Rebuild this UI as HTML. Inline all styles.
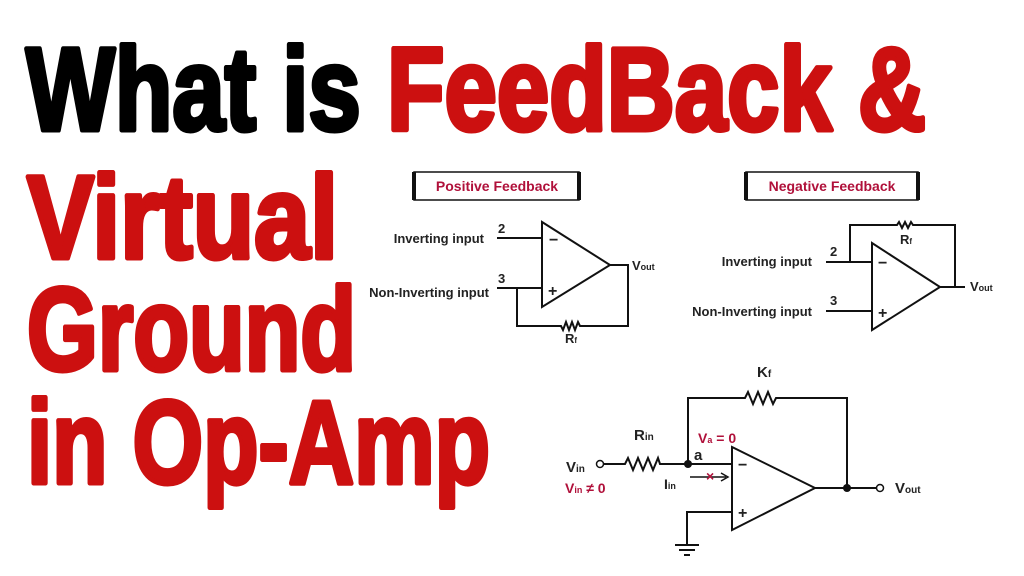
<!DOCTYPE html>
<html><head><meta charset="utf-8"><style>
html,body{margin:0;padding:0;background:#fff;}
svg{display:block}
.t{font-family:"Liberation Sans",sans-serif;font-weight:bold;font-size:118px;stroke-width:5;stroke-linejoin:round}
.h{font-family:"Liberation Sans",sans-serif;font-size:13px;fill:#222;font-weight:bold}
.c{font-family:"Liberation Sans",sans-serif;fill:#b0103a;font-weight:bold}
</style></head><body>
<svg width="1024" height="576" viewBox="0 0 1024 576" xmlns="http://www.w3.org/2000/svg">
<rect width="1024" height="576" fill="#fff"/>
<text class="t" x="26" y="130" textLength="900" lengthAdjust="spacingAndGlyphs"><tspan fill="#000" stroke="#000">What is </tspan><tspan fill="#cc1010" stroke="#cc1010">FeedBack &amp;</tspan></text>
<text class="t" x="27" y="258" fill="#cc1010" stroke="#cc1010" textLength="311" lengthAdjust="spacingAndGlyphs">Virtual</text>
<text class="t" x="27" y="370" fill="#cc1010" stroke="#cc1010" textLength="329" lengthAdjust="spacingAndGlyphs">Ground</text>
<text class="t" x="27" y="483" fill="#cc1010" stroke="#cc1010" textLength="463" lengthAdjust="spacingAndGlyphs">in Op-Amp</text>

<g fill="none" stroke="#111" stroke-width="2">
<rect x="414" y="172" width="165" height="28" stroke-width="1.5"/>
<line x1="414" y1="172" x2="414" y2="200" stroke-width="4"/>
<line x1="579" y1="172" x2="579" y2="200" stroke-width="4"/>
<rect x="746" y="172" width="172" height="28" stroke-width="1.5"/>
<line x1="746" y1="172" x2="746" y2="200" stroke-width="4"/>
<line x1="918" y1="172" x2="918" y2="200" stroke-width="4"/>
<polygon points="542,222 542,307 610,265"/>
<path d="M497 238H542M497 288H542M610 265H628V326H580l-2-4-3 8-3-8-3 8-3-8-3 8-2-4H517V288"/>
<polygon points="872,243 872,330 940,287"/>
<path d="M826 262H872M826 311H872M940 287H965M850 262V225H897l2-3 3 6 3-6 3 6 3-6 2 3H955V287"/>
<polygon points="732,447 732,530 815,488"/>
<path d="M604 464H625l3-6 5 12 5-12 5 12 5-12 5 12 5-12 2 6H732M688 464V398H745l3-6 5 12 5-12 5 12 5-12 5 12 3-6H847V488M815 488H876M732 512H687V545M675 545H699M679 550H695M684 555H690"/>
<line x1="690" y1="477" x2="726" y2="477" stroke-width="1.5"/>
<path d="M721 473L728 477L721 481" stroke-width="1.5"/>
</g>
<circle cx="600" cy="464" r="3.5" fill="#fff" stroke="#111" stroke-width="1.5"/>
<circle cx="880" cy="488" r="3.5" fill="#fff" stroke="#111" stroke-width="1.5"/>
<circle cx="688" cy="464" r="4" fill="#111"/>
<circle cx="847" cy="488" r="4" fill="#111"/>
<text x="706" y="481" class="c" font-size="14">×</text>

<text class="c" x="497" y="191" font-size="14" text-anchor="middle">Positive Feedback</text>
<text class="c" x="832" y="191" font-size="14" text-anchor="middle">Negative Feedback</text>

<g class="h">
<text x="484" y="243" text-anchor="end">Inverting input</text>
<text x="489" y="297" text-anchor="end">Non-Inverting input</text>
<text x="498" y="233">2</text><text x="498" y="283">3</text>
<text x="549" y="245" font-size="16">−</text><text x="548" y="296" font-size="16">+</text>
<text x="632" y="270">V<tspan font-size="9">out</tspan></text>
<text x="565" y="343">R<tspan font-size="8">f</tspan></text>

<text x="812" y="266" text-anchor="end">Inverting input</text>
<text x="812" y="316" text-anchor="end">Non-Inverting input</text>
<text x="830" y="256">2</text><text x="830" y="305">3</text>
<text x="878" y="268" font-size="16">−</text><text x="878" y="318" font-size="16">+</text>
<text x="970" y="291">V<tspan font-size="9">out</tspan></text>
<text x="900" y="244">R<tspan font-size="8">f</tspan></text>

<text x="757" y="377" font-size="15">K<tspan font-size="10">f</tspan></text>
<text x="634" y="440" font-size="15">R<tspan font-size="10">in</tspan></text>
<text x="566" y="472" font-size="15">V<tspan font-size="10">in</tspan></text>
<text x="694" y="460" font-size="15">a</text>
<text x="664" y="489" font-size="14">I<tspan font-size="9">in</tspan></text>
<text x="738" y="470" font-size="16">−</text><text x="738" y="518" font-size="16">+</text>
<text x="895" y="493" font-size="15">V<tspan font-size="10">out</tspan></text>
</g>
<text class="c" x="565" y="493" font-size="14">V<tspan font-size="9">in</tspan> ≠ 0</text>
<text class="c" x="698" y="443" font-size="14">V<tspan font-size="9">a</tspan> = 0</text>
</svg>
</body></html>
